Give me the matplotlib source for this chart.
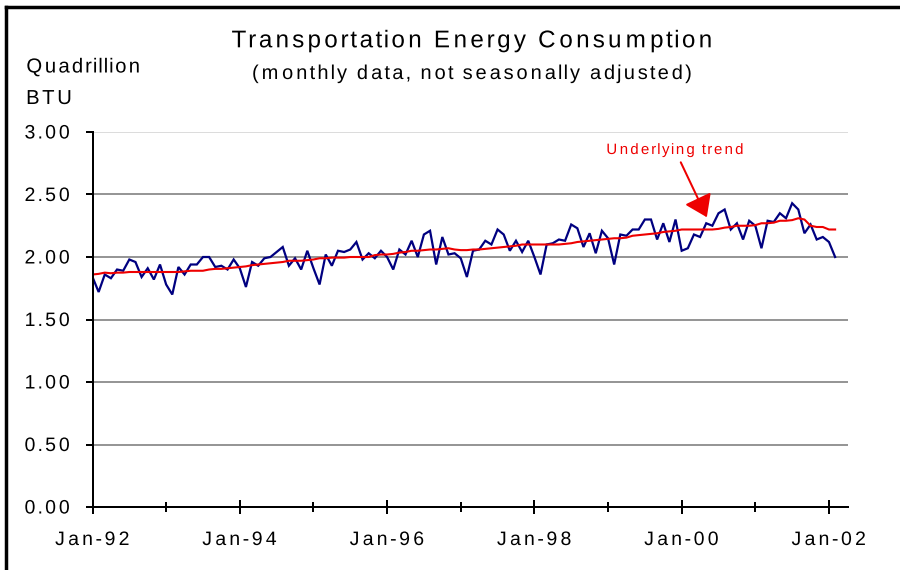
import numpy as np
import matplotlib
matplotlib.use("Agg")
import matplotlib.pyplot as plt
from matplotlib.lines import Line2D
from matplotlib.path import Path
from matplotlib.patheffects import AbstractPathEffect
from matplotlib.transforms import IdentityTransform
from matplotlib.ticker import FormatStrFormatter

# Monthly transportation energy consumption, Jan-1992 .. Feb-2002 (quadrillion BTU)
consumption = [
    1.84, 1.72, 1.86, 1.83, 1.90, 1.89, 1.98, 1.96, 1.84, 1.91, 1.82, 1.94,
    1.78, 1.70, 1.92, 1.86, 1.94, 1.94, 2.00, 2.00, 1.92, 1.93, 1.90, 1.98,
    1.91, 1.76, 1.96, 1.93, 1.99, 2.00, 2.04, 2.08, 1.93, 1.99, 1.90, 2.05,
    1.91, 1.78, 2.02, 1.93, 2.05, 2.04, 2.06, 2.12, 1.98, 2.03, 1.99, 2.05,
    2.00, 1.90, 2.06, 2.02, 2.13, 2.00, 2.18, 2.21, 1.94, 2.16, 2.02, 2.03,
    1.99, 1.84, 2.05, 2.06, 2.13, 2.10, 2.22, 2.18, 2.05, 2.13, 2.04, 2.13,
    2.00, 1.86, 2.10, 2.11, 2.14, 2.13, 2.26, 2.23, 2.08, 2.19, 2.03, 2.21,
    2.15, 1.94, 2.18, 2.17, 2.22, 2.22, 2.30, 2.30, 2.14, 2.27, 2.12, 2.30,
    2.05, 2.07, 2.18, 2.16, 2.27, 2.25, 2.35, 2.38, 2.22, 2.27, 2.14, 2.29,
    2.25, 2.07, 2.29, 2.28, 2.35, 2.31, 2.43, 2.38, 2.19, 2.26, 2.14, 2.16,
    2.12, 2.00,
]

# Underlying trend of the same series
trend = [
    1.860, 1.865, 1.875, 1.870, 1.875, 1.875, 1.880, 1.880, 1.880, 1.880, 1.880, 1.880,
    1.880, 1.880, 1.880, 1.885, 1.890, 1.890, 1.890, 1.900, 1.905, 1.905, 1.910, 1.915,
    1.920, 1.925, 1.935, 1.940, 1.945, 1.950, 1.955, 1.960, 1.970, 1.970, 1.970, 1.975,
    1.980, 1.990, 1.990, 1.995, 1.995, 1.995, 2.000, 2.000, 2.000, 2.000, 2.015, 2.020,
    2.020, 2.025, 2.035, 2.040, 2.050, 2.050, 2.055, 2.060, 2.060, 2.065, 2.070, 2.060,
    2.055, 2.055, 2.060, 2.060, 2.065, 2.070, 2.075, 2.080, 2.085, 2.090, 2.100, 2.100,
    2.100, 2.100, 2.100, 2.100, 2.100, 2.105, 2.110, 2.120, 2.125, 2.130, 2.135, 2.140,
    2.145, 2.150, 2.150, 2.155, 2.170, 2.175, 2.180, 2.185, 2.190, 2.200, 2.205, 2.210,
    2.220, 2.220, 2.220, 2.220, 2.220, 2.220, 2.225, 2.235, 2.240, 2.250, 2.250, 2.250,
    2.255, 2.270, 2.270, 2.275, 2.290, 2.290, 2.295, 2.310, 2.300, 2.250, 2.240, 2.240,
    2.220, 2.220,
]

year_labels = ["Jan-92", "Jan-94", "Jan-96", "Jan-98", "Jan-00", "Jan-02"]
minor_year_labels = ["Jan-93", "Jan-95", "Jan-97", "Jan-99", "Jan-01"]
y_ticks = [0.0, 0.5, 1.0, 1.5, 2.0, 2.5, 3.0]

title = "Transportation Energy Consumption"
subtitle = "(monthly data, not seasonally adjusted)"
unit_lines = ["Quadrillion", "BTU"]
trend_note = "Underlying trend"
trend_note_at = (94.9, 2.856)     # month index, value of the note
trend_arrow_to = (100.1, 2.318)   # point on the trend the arrow indicates

BLUE = "#000080"
RED = "#ee0000"
GRID = "#969696"

plt.rcParams["font.family"] = ["Liberation Sans", "DejaVu Sans"]


class Tracking(AbstractPathEffect):
    """Letter-spaced text: every glyph keeps its shape but is moved away
    from an anchor in proportion to its distance from it."""

    def __init__(self, spread=1.25, anchor="center"):
        super().__init__()
        self._spread = spread
        self._anchor = anchor

    def draw_path(self, renderer, gc, tpath, affine, rgbFace=None):
        path = affine.transform_path(tpath)
        verts = np.array(path.vertices, dtype=float)
        codes = path.codes
        if codes is None or len(verts) == 0:
            renderer.draw_path(gc, tpath, affine, rgbFace)
            return
        real = codes != Path.CLOSEPOLY
        xs = verts[real, 0]
        if self._anchor == "left":
            ref = xs.min()
        elif self._anchor == "right":
            ref = xs.max()
        else:
            ref = 0.5 * (xs.min() + xs.max())
        starts = list(np.flatnonzero(codes == Path.MOVETO)) + [len(verts)]
        for a, b in zip(starts[:-1], starts[1:]):
            sx = verts[a:b, 0][real[a:b]]
            if sx.size == 0:
                continue
            centre = 0.5 * (sx.min() + sx.max())
            verts[a:b, 0] += (centre - ref) * (self._spread - 1.0)
        renderer.draw_path(gc, Path(verts, codes), IdentityTransform(), rgbFace)


W, H = 900, 570
fig = plt.figure(figsize=(W / 100, H / 100), dpi=100)
fig.patch.set_facecolor("white")

ax = fig.add_axes([92.5 / W, 1 - 507 / H, (848 - 92.5) / W, (507 - 132) / H])
months = np.arange(len(consumption))
n_years = len(year_labels) + len(minor_year_labels)

ax.set_xlim(0, 123.1)
ax.set_ylim(y_ticks[0], y_ticks[-1])

# horizontal gridlines
for v in y_ticks[1:]:
    top = v == y_ticks[-1]
    ax.axhline(v, color="#d2d2d2" if top else GRID, lw=1.1 if top else 1.44,
               zorder=1)

ax.plot(months, consumption, color=BLUE, lw=1.6, zorder=3,
        solid_joinstyle="miter")
ax.plot(months, trend, color=RED, lw=1.5, zorder=4)

# axes styling
for side in ("top", "right"):
    ax.spines[side].set_visible(False)
for side in ("left", "bottom"):
    ax.spines[side].set_linewidth(1.44)
    ax.spines[side].set_color("black")
    ax.spines[side].set_zorder(5)

ax.set_yticks(y_ticks)
ax.yaxis.set_major_formatter(FormatStrFormatter("%.2f"))
ax.set_xticks([24 * k for k in range(len(year_labels))], year_labels)
ax.set_xticks([12 + 24 * k for k in range(len(minor_year_labels))], minor=True)

ax.tick_params(axis="y", direction="out", length=5.0, width=1.44, pad=10.4,
               labelsize=14, colors="black")
ax.tick_params(axis="x", which="major", direction="inout", length=10,
               width=1.44, pad=13, labelsize=14, colors="black")
ax.tick_params(axis="x", which="minor", direction="inout", length=6.5,
               width=1.44)

for lbl in ax.get_xticklabels():
    lbl.set_path_effects([Tracking(1.3, "center")])
for lbl in ax.get_yticklabels():
    lbl.set_path_effects([Tracking(1.27, "right")])

# titles
t1 = fig.text(471 / W, 1 - 47.3 / H, title, ha="center", va="baseline",
              fontsize=17.4, color="black")
t1.set_path_effects([Tracking(1.25, "center")])
t2 = fig.text(472 / W, 1 - 79 / H, subtitle, ha="center", va="baseline",
              fontsize=14.4, color="black")
t2.set_path_effects([Tracking(1.27, "center")])

# unit label
for text, base in zip(unit_lines, (72.5, 104)):
    u = fig.text(25 / W, 1 - base / H, text, ha="left", va="baseline",
                 fontsize=14.6, color="black")
    u.set_path_effects([Tracking(1.2, "left")])

# trend note with arrow
note = ax.annotate(
    trend_note, xy=trend_arrow_to, xytext=trend_note_at,
    xycoords="data", textcoords="data", ha="center", va="center",
    fontsize=10.8, color=RED, zorder=6,
    arrowprops=dict(arrowstyle="-|>,head_length=1.3,head_width=0.89",
                    color=RED, lw=1.44, shrinkA=2, shrinkB=0,
                    mutation_scale=10),
)
note.set_path_effects([Tracking(1.27, "center")])

# frame around the chart (top and left edges)
fig.add_artist(Line2D([5.5 / W, 1.0], [1 - 7 / H, 1 - 7 / H],
                      transform=fig.transFigure, color="black", lw=2.5,
                      solid_capstyle="projecting"))
fig.add_artist(Line2D([5.5 / W, 5.5 / W], [1 - 7 / H, 0.0],
                      transform=fig.transFigure, color="black", lw=2.5,
                      solid_capstyle="projecting"))

fig.savefig("out.png", dpi=100, facecolor="white")
